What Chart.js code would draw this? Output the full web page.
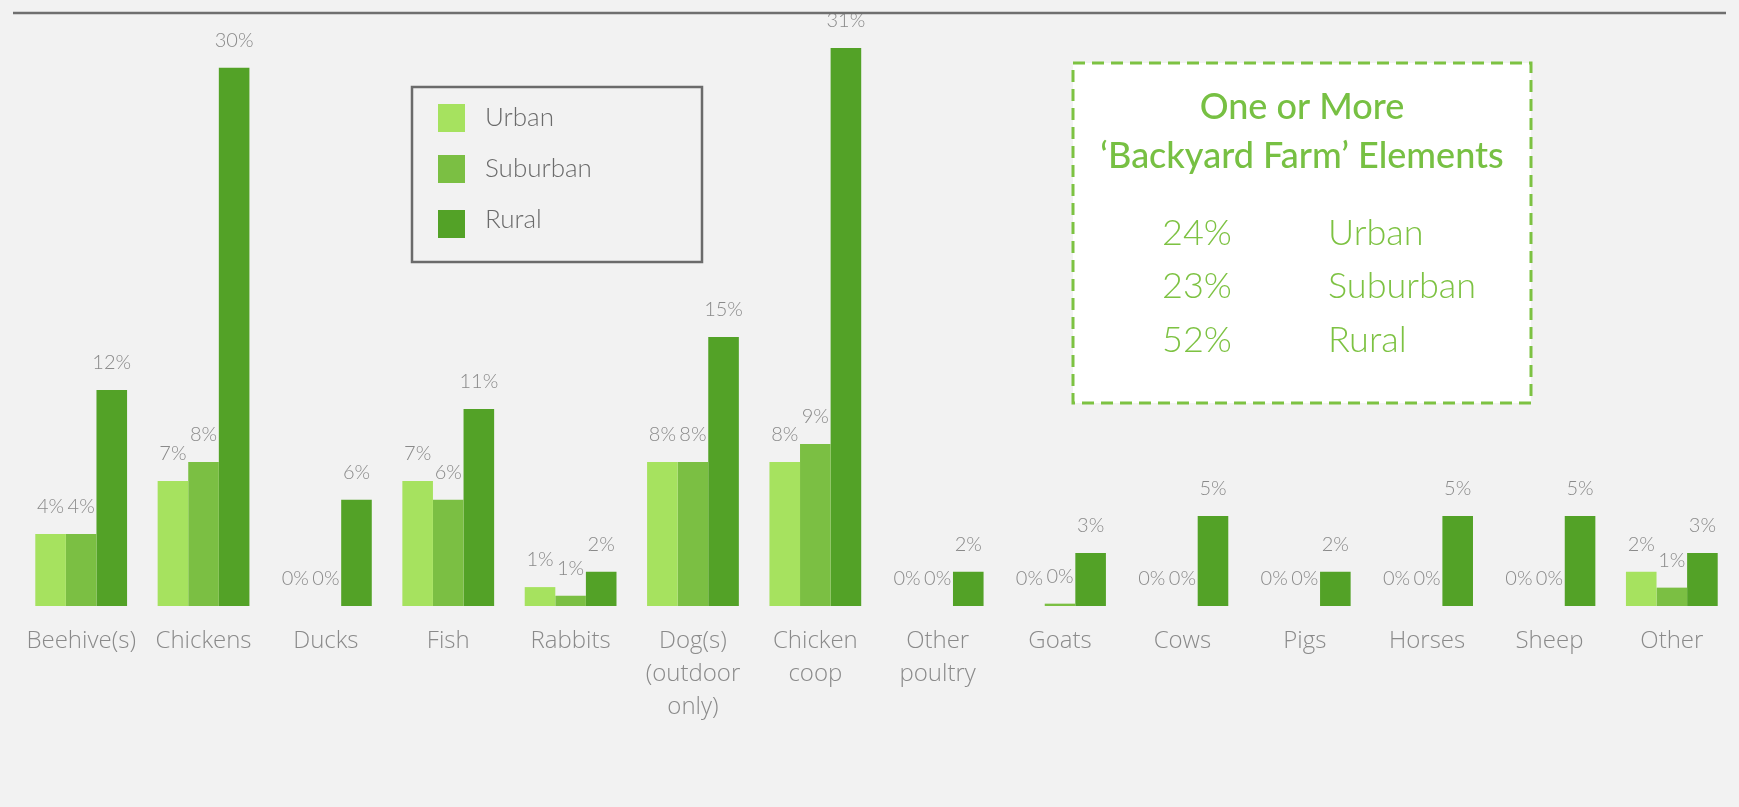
<!DOCTYPE html>
<html>
<head>
<meta charset="utf-8">
<title>Backyard farm elements</title>
<script src="https://cdn.jsdelivr.net/npm/chart.js@4/dist/chart.umd.min.js"></script>
<style>
  html, body { margin: 0; padding: 0; background: #f2f2f2; }
  canvas { display: block; }
</style>
</head>
<body>
<canvas id="farmChart" width="1739" height="807"></canvas>
<script>
// ---- data ----
const categories = ["Beehive(s)", "Chickens", "Ducks", "Fish", "Rabbits",
  ["Dog(s)", "(outdoor", "only)"], ["Chicken", "coop"], ["Other", "poultry"],
  "Goats", "Cows", "Pigs", "Horses", "Sheep", "Other"];
const urban    = [4, 6.95, 0, 6.95, 1.05, 8, 8, 0, 0, 0, 0, 0, 0, 1.9];
const suburban = [4, 8, 0, 5.9, 0.57, 8, 9, 0, 0.13, 0, 0, 0, 0, 1.02];
const rural    = [12, 29.9, 5.9, 10.95, 1.9, 14.95, 31, 1.9, 2.95, 5, 1.9, 5, 5, 2.95];
const seriesNames  = ["Urban", "Suburban", "Rural"];
const seriesColors = ["#a6e25f", "#7bbf43", "#53a227"];

// summary box
const boxTitle    = ["One or More", "\u2018Backyard Farm\u2019 Elements"];
const boxPercents = ["24%", "23%", "52%"];
const boxLabels   = ["Urban", "Suburban", "Rural"];

const FONT = "Lato, 'Open Sans', sans-serif";
const AXIS_FONT = "'Open Sans', Lato, sans-serif";
const GRAY = "#8a8a8a";

// value labels above every bar
const valueLabels = {
  id: "valueLabels",
  afterDatasetsDraw(chart) {
    const ctx = chart.ctx;
    ctx.save();
    ctx.font = `300 20px ${FONT}`;
    ctx.fillStyle = GRAY;
    ctx.textAlign = "center";
    ctx.textBaseline = "alphabetic";
    chart.data.datasets.forEach((ds, i) => {
      chart.getDatasetMeta(i).data.forEach((bar, j) => {
        ctx.fillText(Math.round(ds.data[j]) + "%", bar.x, bar.y - 21);
      });
    });
    ctx.restore();
  }
};

// legend box, summary box and the rule on top
const extras = {
  id: "extras",
  afterDraw(chart) {
    const ctx = chart.ctx;
    ctx.save();

    // legend
    ctx.strokeStyle = "#6b6b6b";
    ctx.lineWidth = 2.5;
    ctx.strokeRect(412, 87, 290, 175);
    const swatchY = [118, 169, 224];
    const textY = [118, 169, 220];
    ctx.font = `300 26px ${FONT}`;
    ctx.textBaseline = "middle";
    ctx.textAlign = "left";
    chart.data.datasets.forEach((ds, i) => {
      ctx.fillStyle = ds.backgroundColor;
      ctx.fillRect(438, swatchY[i] - 14, 27, 28);
      ctx.fillStyle = "#6b6b6b";
      ctx.fillText(ds.label, 485, textY[i]);
    });

    // summary box
    ctx.fillStyle = "#ffffff";
    ctx.fillRect(1073, 63, 458, 340);
    ctx.setLineDash([12, 7]);
    ctx.strokeStyle = "#7dc242";
    ctx.lineWidth = 3;
    ctx.strokeRect(1073, 63, 458, 340);
    ctx.setLineDash([]);

    ctx.fillStyle = "#77c043";
    ctx.textAlign = "center";
    ctx.textBaseline = "alphabetic";
    ctx.font = `500 36px ${FONT}`;
    ctx.fillText(boxTitle[0], 1302, 119);
    ctx.fillText(boxTitle[1], 1302, 168);

    ctx.fillStyle = "#7dc242";
    ctx.font = `300 36px ${FONT}`;
    ctx.textAlign = "left";
    const base = [245, 298, 352];
    boxPercents.forEach((p, i) => {
      ctx.fillText(p, 1162, base[i]);
      ctx.fillText(boxLabels[i], 1328, base[i]);
    });

    // top rule
    ctx.strokeStyle = "#6f6f6f";
    ctx.lineWidth = 2.5;
    ctx.beginPath();
    ctx.moveTo(13, 13);
    ctx.lineTo(1726, 13);
    ctx.stroke();

    ctx.restore();
  }
};

const seriesData = [urban, suburban, rural];

new Chart(document.getElementById("farmChart"), {
  type: "bar",
  data: {
    labels: categories,
    datasets: seriesNames.map((name, i) => ({
      label: name,
      data: seriesData[i],
      backgroundColor: seriesColors[i],
      categoryPercentage: 0.75,
      barPercentage: 1.0
    }))
  },
  options: {
    responsive: false,
    animation: false,
    devicePixelRatio: 1,
    layout: { padding: { left: 20, right: 6, top: 12, bottom: 0 } },
    plugins: {
      legend: { display: false },
      tooltip: { enabled: false }
    },
    scales: {
      x: {
        grid: { display: false },
        border: { display: false },
        ticks: {
          color: GRAY,
          font: { family: AXIS_FONT, size: 24, weight: 300, lineHeight: 1.39 },
          padding: 10,
          maxRotation: 0,
          autoSkip: false
        },
        afterFit: (s) => { s.height = 201; }
      },
      y: { display: false, min: 0, max: 33 }
    }
  },
  plugins: [valueLabels, extras]
});
</script>
</body>
</html>
